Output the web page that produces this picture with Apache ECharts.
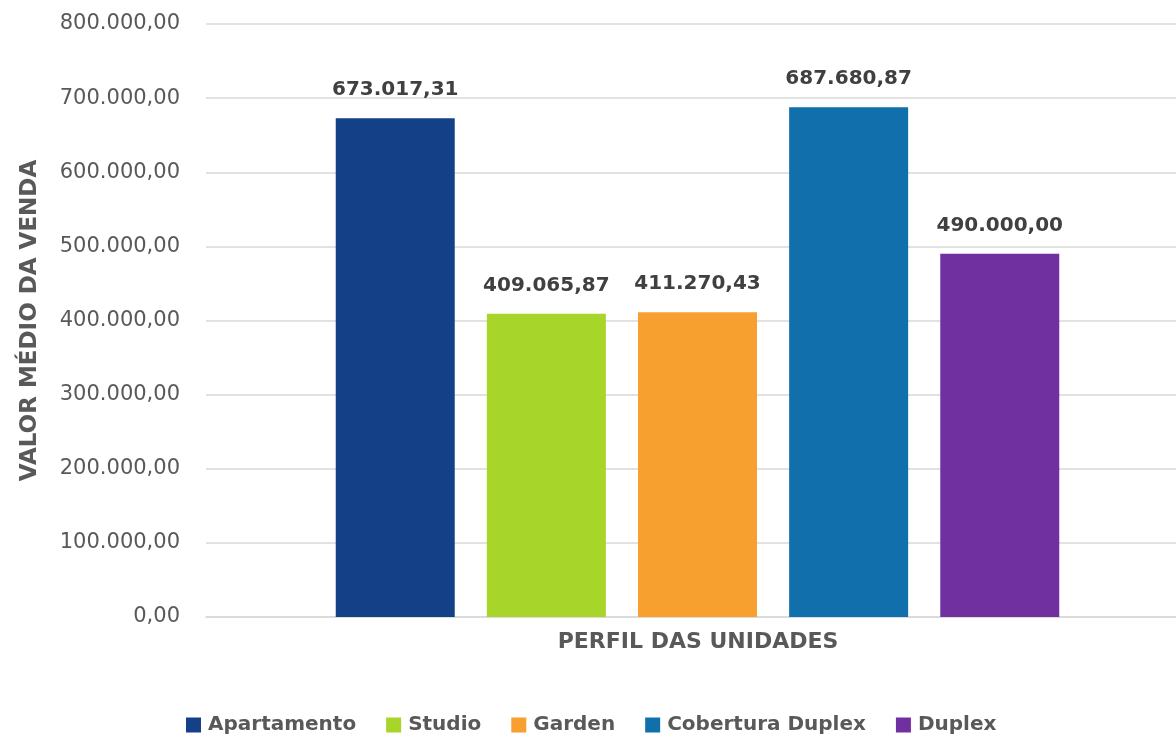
<!DOCTYPE html>
<html><head><meta charset="utf-8">
<script src="https://cdn.jsdelivr.net/npm/echarts@6/dist/echarts.min.js"></script>
<style>html,body{margin:0;padding:0;background:#fff}#c{width:1176px;height:735px}</style>
</head><body><div id="c"></div>
<script>
const categories = ['Perfil'];
const seriesNames = ['Apartamento', 'Studio', 'Garden', 'Cobertura Duplex', 'Duplex'];
const seriesValues = [673017.31, 409065.87, 411270.43, 687680.87, 490000.00];
const seriesColors = ['#134086', '#a8d52a', '#f7a030', '#1170ab', '#7030a0'];
const yTicks = { min: 0, max: 800000, interval: 100000 };

const fmt = v => {
  const parts = v.toFixed(2).split('.');
  return parts[0].replace(/\B(?=(\d{3})+(?!\d))/g, '.') + ',' + parts[1];
};
const FONT = 'DejaVu Sans';
const chart = echarts.init(document.getElementById('c'), null, {renderer: 'canvas'});
chart.setOption({
  animation: false,
  textStyle: { fontFamily: FONT },
  grid: [
    { left: 206, right: 0, top: 24, bottom: 118, containLabel: false },
    { left: 219, right: 0, top: 24, bottom: 118, containLabel: false }
  ],
  legend: {
    top: 710, left: 181,
    itemWidth: 15, itemHeight: 15, itemGap: 30,
    icon: 'rect',
    textStyle: { fontFamily: FONT, fontSize: 20, fontWeight: 'bold', color: '#595959', padding: [0, 0, 0, 2] },
    data: seriesNames
  },
  xAxis: [{
    type: 'category', data: categories, gridIndex: 0,
    axisLabel: { show: false }, axisTick: { show: false },
    axisLine: { lineStyle: { color: '#d9d9d9', width: 1.5 } },
    name: 'PERFIL DAS UNIDADES', nameLocation: 'middle', nameGap: 14,
    nameTextStyle: { fontFamily: FONT, fontSize: 22, fontWeight: 'bold', color: '#595959', verticalAlign: 'top', padding: [0, 0, 0, 14] }
  }, {
    type: 'category', data: categories, gridIndex: 1, show: false
  }],
  yAxis: [{
    type: 'value', min: yTicks.min, max: yTicks.max, interval: yTicks.interval, gridIndex: 0,
    axisLabel: { formatter: v => fmt(v), fontSize: 21, color: '#595959', margin: 26, fontFamily: FONT },
    splitLine: { lineStyle: { color: '#d9d9d9', width: 1.5 } },
    axisLine: { show: false }, axisTick: { show: false },
    name: 'VALOR MÉDIO DA VENDA', nameLocation: 'middle', nameGap: 164, nameRotate: 90,
    nameTextStyle: { fontFamily: FONT, fontSize: 23, fontWeight: 'bold', color: '#595959' }
  }, {
    type: 'value', min: yTicks.min, max: yTicks.max, interval: yTicks.interval, gridIndex: 1, show: false
  }],
  series: seriesNames.map((n, i) => ({
    name: n, type: 'bar', data: [seriesValues[i]], xAxisIndex: 1, yAxisIndex: 1,
    barWidth: 119, barGap: '27%',
    itemStyle: { color: seriesColors[i] },
    label: { show: true, position: 'top', distance: 18, formatter: p => fmt(p.value),
      fontFamily: FONT, fontSize: 20, fontWeight: 'bold', color: '#404040' }
  }))
});
</script></body></html>
